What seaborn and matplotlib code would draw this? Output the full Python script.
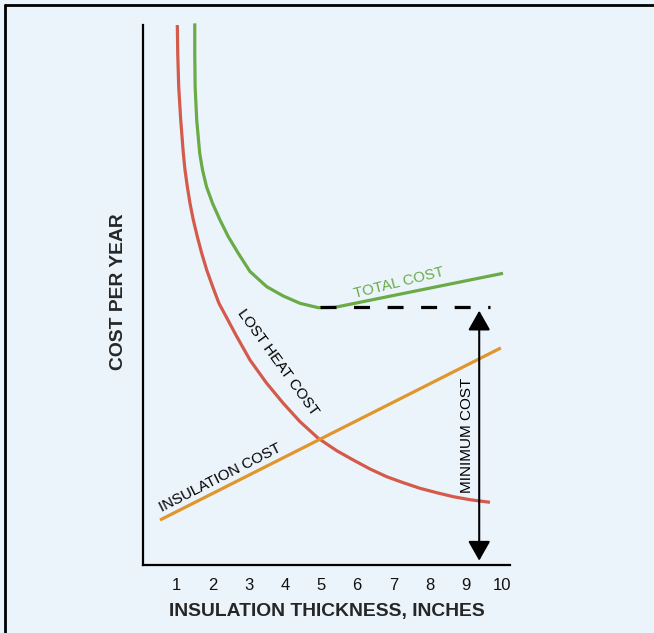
import numpy as np
import matplotlib
matplotlib.use('Agg')
import matplotlib.pyplot as plt
from matplotlib.lines import Line2D
import seaborn as sns

# thickness in inches (x) and relative cost per year (y, no units on the chart)
heat_x = [1.017, 1.028, 1.055, 1.111, 1.183, 1.230, 1.294, 1.368, 1.460, 1.571,
          1.693, 1.831, 1.997, 2.170, 2.370, 2.640, 3.030, 3.493, 3.953,
          4.416, 4.922, 5.432, 5.892, 6.355, 6.817, 7.277, 7.740, 8.202, 8.662,
          9.125, 9.679]
heat_y = [100.0, 94.76, 88.57, 82.41, 76.24, 73.15, 70.06, 66.98, 63.89, 60.80,
          57.72, 54.63, 51.54, 48.46, 45.98, 42.59, 37.96, 33.65, 29.94,
          26.54, 23.46, 21.17, 19.44, 17.78, 16.35, 15.24, 14.20, 13.39, 12.65,
          12.09, 11.61]

total_x = [1.500, 1.500, 1.510, 1.554, 1.637, 1.715, 1.825, 1.992, 2.199, 2.429,
           2.706, 3.030, 3.493, 3.953, 4.416, 4.922, 5.385, 10.04]
total_y = [100.3, 94.76, 88.57, 82.41, 76.24, 73.15, 70.06, 66.98, 63.89, 60.80,
           57.72, 54.35, 51.54, 49.81, 48.46, 47.65, 47.72, 54.02]

insul_x = [0.537, 9.98]
insul_y = [8.33, 40.2]

min_cost = 47.7
min_x = [4.97, 9.68]
arrow_x = 9.38
arrow_bottom = 0.8

x_ticks = [1, 2, 3, 4, 5, 6, 7, 8, 9, 10]

bg = '#EBF4FB'
red = '#D45B4B'
green = '#6AAB47'
orange = '#E0962C'

sns.set_style('white')
plt.rcParams['font.family'] = ['Liberation Sans', 'DejaVu Sans']

fig = plt.figure(figsize=(6.54, 6.33), dpi=100, facecolor=bg)
ax = fig.add_axes([143/654, 1 - 565/633, (510 - 143)/654, (565 - 25)/633])
ax.set_facecolor(bg)

sns.lineplot(x=heat_x, y=heat_y, ax=ax, color=red, lw=2.3, estimator=None, sort=False,
             solid_capstyle='butt', solid_joinstyle='round')
sns.lineplot(x=total_x, y=total_y, ax=ax, color=green, lw=2.3, estimator=None, sort=False,
             solid_capstyle='butt', solid_joinstyle='round', clip_on=False)
sns.lineplot(x=insul_x, y=insul_y, ax=ax, color=orange, lw=2.3, estimator=None, sort=False,
             solid_capstyle='butt')

# minimum cost level
ax.plot(min_x, [min_cost, min_cost], color='black', lw=2.3, ls=(0, (5, 5.5)),
        dash_capstyle='butt')
ax.annotate('', xy=(arrow_x, min_cost - 0.6), xytext=(arrow_x, arrow_bottom),
            arrowprops=dict(arrowstyle='<|-|>,head_length=0.6,head_width=0.34',
                            color='black', lw=1.5, shrinkA=0, shrinkB=0,
                            mutation_scale=20))

ax.text(7.16, 52.2, 'TOTAL COST', color=green, fontsize=10.8, rotation=14,
        ha='center', va='center', rotation_mode='anchor')
ax.text(3.81, 37.6, 'LOST HEAT COST', color='black', fontsize=10.8, rotation=-54,
        ha='center', va='center', rotation_mode='anchor')
ax.text(2.20, 16.1, 'INSULATION COST', color='black', fontsize=10.8, rotation=27,
        ha='center', va='center', rotation_mode='anchor')
ax.text(9.04, 24.1, 'MINIMUM COST', color='black', fontsize=11, rotation=90,
        ha='center', va='center', rotation_mode='anchor')

ax.set_xlim(0.066, 10.233)
ax.set_ylim(0, 100)
ax.set_xticks(x_ticks)
ax.set_xticklabels([str(t) for t in x_ticks])
ax.set_yticks([])
ax.tick_params(axis='x', length=0, pad=9, labelsize=12, colors='#111111')
for side in ['top', 'right']:
    ax.spines[side].set_visible(False)
for side in ['left', 'bottom']:
    ax.spines[side].set_color('black')
    ax.spines[side].set_linewidth(1.6)

ax.set_xlabel('INSULATION THICKNESS, INCHES', fontsize=13.9, fontweight='bold', va='center')
ax.xaxis.set_label_coords(0.501, -0.087)
ax.set_ylabel('COST PER YEAR', fontsize=13.9, fontweight='bold', va='center')
ax.yaxis.set_label_coords(-0.068, 0.5056)

# outer frame (top and left edge only)
fig.add_artist(Line2D([5/654, 1], [1 - 5/633, 1 - 5/633], color='black', lw=2,
                      transform=fig.transFigure))
fig.add_artist(Line2D([5/654, 5/654], [0, 1 - 5/633], color='black', lw=2,
                      transform=fig.transFigure))

fig.savefig('out.png', dpi=100, facecolor=bg)
